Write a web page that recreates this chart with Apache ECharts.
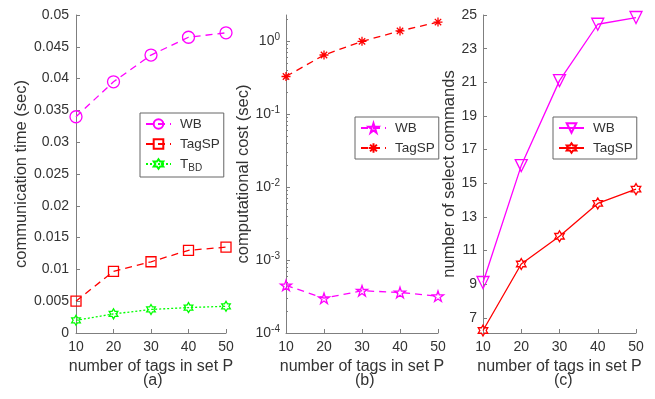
<!DOCTYPE html>
<html>
<head>
<meta charset="utf-8">
<script src="https://cdn.jsdelivr.net/npm/echarts@6/dist/echarts.min.js"></script>
<style>
html, body { margin: 0; padding: 0; background: #fff; }
#chart { width: 655px; height: 399px; }
</style>
</head>
<body>
<div id="chart"></div>
<script>
// x: number of tags in set P
var tags = [10, 20, 30, 40, 50];

// (a) communication time (sec)
var commWB = [0.0340, 0.0395, 0.0437, 0.0465, 0.0472];
var commTagSP = [0.0050, 0.0097, 0.0112, 0.0130, 0.0135];
var commTBD = [0.0020, 0.0030, 0.0037, 0.0040, 0.0042];

// (b) computational cost (sec), log scale
var costWB = [4.5e-4, 3.0e-4, 3.8e-4, 3.6e-4, 3.2e-4];
var costTagSP = [0.33, 0.65, 1.0, 1.39, 1.84];

// (c) number of select commands
var selWB = [9.1, 16.05, 21.1, 24.45, 24.85];
var selTagSP = [6.25, 10.2, 11.85, 13.8, 14.65];

// tick labels
var decadeTicks = [1e-4, 1e-3, 1e-2, 1e-1, 1];
var selTicks = [7, 9, 11, 13, 15, 17, 19, 21, 23, 25];

var FONT = 'Liberation Sans';
var TXT = '#333';
var AXC = '#7f7f7f';
var MAG = '#ff00ff', RED = '#ff0000', GRN = '#00ff00';

function pairs(arr) {
	return tags.map(function (x, i) { return [x, arr[i]]; });
}

// marker shapes
function starPath(n, rIn) {
	var s = 'path://';
	for (var k = 0; k < 2 * n; k++) {
		var r = (k % 2 === 0) ? 100 : 100 * rIn;
		var a = -Math.PI / 2 + k * Math.PI / n;
		s += (k === 0 ? 'M' : 'L') + (r * Math.cos(a)).toFixed(1) + ',' + (r * Math.sin(a)).toFixed(1);
	}
	return s + 'Z';
}
var HEXA = starPath(6, 0.577);
var PENTA = starPath(5, 0.382);
var ASTER = 'path://M0,-100L0,100M-100,0L100,0M-71,-71L71,71M-71,71L71,-71';

// minor ticks for the log axis
var minorTicks = [];
for (var d = -4; d < 1; d++) {
	for (var m = 2; m <= 9; m++) {
		var v = m * Math.pow(10, d);
		if (v <= 2.3) minorTicks.push(v);
	}
}

function xAxisCfg(gi) {
	return {
		type: 'value', gridIndex: gi, min: 10, max: 50, interval: 10,
		name: 'number of tags in set P', nameLocation: 'middle', nameGap: 26,
		nameTextStyle: { fontFamily: FONT, fontSize: 16, color: TXT },
		axisLine: { show: true, lineStyle: { color: AXC, width: 1 } },
		axisTick: { show: true, inside: true, length: 4, lineStyle: { color: AXC } },
		axisLabel: { fontFamily: FONT, fontSize: 14, color: TXT, margin: 7 },
		splitLine: { show: false }
	};
}

function yName(text, gap) {
	return {
		name: text, nameLocation: 'middle', nameGap: gap,
		nameTextStyle: { fontFamily: FONT, fontSize: 16.5, color: TXT }
	};
}

function lineSeries(name, xi, yi, data, color, dash, symbol, size, extra) {
	var s = {
		name: name, type: 'line', xAxisIndex: xi, yAxisIndex: yi,
		data: pairs(data), symbol: symbol, symbolSize: size, symbolKeepAspect: true,
		showAllSymbol: true,
		lineStyle: { color: color, width: 1.3, type: dash },
		itemStyle: { color: 'rgba(255,255,255,0)', borderColor: color, borderWidth: 1.3 },
		emphasis: { disabled: true },
		z: 3
	};
	if (extra) for (var k in extra) s[k] = extra[k];
	return s;
}

function legendCfg(names, left, top) {
	return {
		data: names, orient: 'vertical', left: left, top: top,
		backgroundColor: '#fff', borderColor: '#666', borderWidth: 1,
		padding: [4, 4, 4, 5], itemWidth: 25, itemHeight: 12, itemGap: 6,
		selectedMode: false,
		textStyle: {
			fontFamily: FONT, fontSize: 13.5, color: TXT, padding: [0, 0, 0, 4],
			rich: { sub: { fontFamily: FONT, fontSize: 10, color: TXT, verticalAlign: 'bottom', padding: [8, 0, 0, 0] } }
		},
		formatter: function (n) {
			var base = n.split('#')[0];
			if (base === 'TBD') return 'T{sub|BD}';
			return base;
		}
	};
}

var chart = echarts.init(document.getElementById('chart'), null, { renderer: 'canvas' });

function axisBase(gi) {
	return {
		gridIndex: gi,
		axisLine: { show: true, lineStyle: { color: AXC, width: 1 } },
		splitLine: { show: false }
	};
}

var yA = Object.assign(axisBase(0), yName('communication time (sec)', 39), {
	type: 'value', min: 0, max: 0.05, interval: 0.005,
	axisTick: { show: true, inside: true, length: 4, lineStyle: { color: AXC } },
	axisLabel: { fontFamily: FONT, fontSize: 14, color: TXT, margin: 7 }
});
var yB = Object.assign(axisBase(1), yName('computational cost (sec)', 23), {
	type: 'log', logBase: 10, min: 1e-4, max: 2.3,
	axisTick: { show: true, inside: true, length: 4, customValues: decadeTicks, lineStyle: { color: AXC } },
	axisLabel: {
		fontFamily: FONT, fontSize: 14, color: TXT, margin: 6,
		customValues: decadeTicks,
		formatter: function (v) {
			return '10{sup|' + Math.round(Math.log10(v)) + '}';
		},
		rich: { sup: { fontFamily: FONT, fontSize: 10, color: TXT, verticalAlign: 'top', padding: [0, 0, 8, 0] } }
	}
});
var yC = Object.assign(axisBase(2), yName('number of select commands', 23), {
	type: 'value', min: 6.1, max: 25,
	axisTick: { show: true, inside: true, length: 4, customValues: selTicks, lineStyle: { color: AXC } },
	axisLabel: { fontFamily: FONT, fontSize: 14, color: TXT, margin: 6, customValues: selTicks }
});
// minor ticks of the log axis, drawn on an overlay axis
var yBminor = {
	type: 'log', logBase: 10, gridIndex: 1, min: 1e-4, max: 2.3, position: 'left',
	axisLine: { show: false },
	axisTick: { show: true, inside: true, length: 2, customValues: minorTicks, lineStyle: { color: AXC } },
	axisLabel: { show: false },
	splitLine: { show: false }
};

var option = {
	backgroundColor: '#fff',
	animation: false,
	grid: [
		{ left: 76, top: 15, width: 150, height: 318 },
		{ left: 286, top: 15, width: 152, height: 318 },
		{ left: 483, top: 15, width: 153, height: 318 }
	],
	xAxis: [xAxisCfg(0), xAxisCfg(1), xAxisCfg(2)],
	yAxis: [yA, yB, yC, yBminor],
	legend: [
		legendCfg(['WB#a', 'TagSP#a', 'TBD#a'], 140, 113),
		legendCfg(['WB#b', 'TagSP#b'], 355, 117),
		legendCfg(['WB#c', 'TagSP#c'], 553, 117)
	],
	series: [
		lineSeries('WB#a', 0, 0, commWB, MAG, [7, 5], 'circle', 12),
		lineSeries('TagSP#a', 0, 0, commTagSP, RED, [7, 5], 'rect', 10),
		lineSeries('TBD#a', 0, 0, commTBD, GRN, [2, 2], HEXA, 10),
		lineSeries('WB#b', 1, 1, costWB, MAG, [7, 5], PENTA, 11),
		lineSeries('TagSP#b', 1, 1, costTagSP, RED, [7, 5], ASTER, 9),
		lineSeries('WB#c', 2, 2, selWB, MAG, 'solid', 'triangle', 12, { symbolRotate: 180 }),
		lineSeries('TagSP#c', 2, 2, selTagSP, RED, 'solid', HEXA, 11)
	],
	graphic: [
		{ type: 'text', left: 143, top: 373, style: { text: '(a)', fontFamily: FONT, fontSize: 16, fill: TXT } },
		{ type: 'text', left: 355, top: 373, style: { text: '(b)', fontFamily: FONT, fontSize: 16, fill: TXT } },
		{ type: 'text', left: 554, top: 373, style: { text: '(c)', fontFamily: FONT, fontSize: 16, fill: TXT } }
	]
};

chart.setOption(option);
</script>
</body>
</html>
